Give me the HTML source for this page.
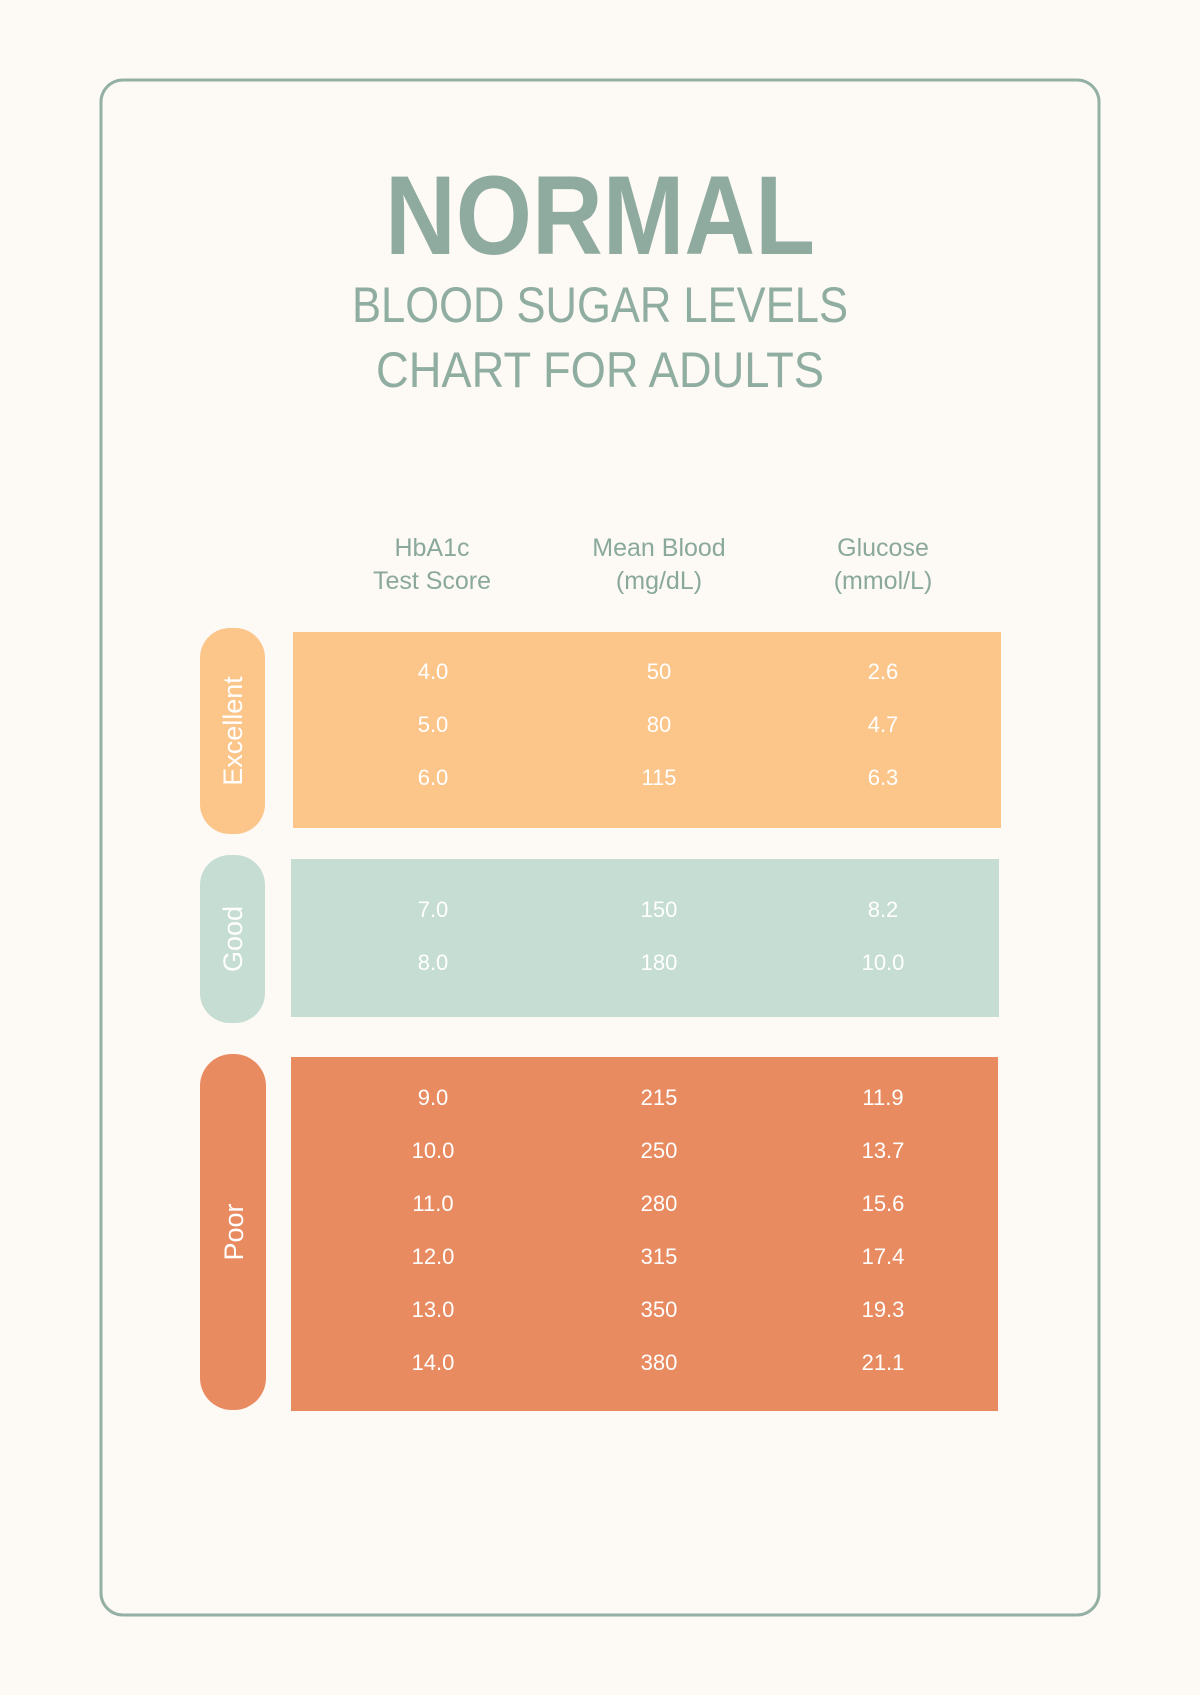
<!DOCTYPE html>
<html><head><meta charset="utf-8"><style>
html,body{margin:0;padding:0;background:#fdf9f5;}
svg{display:block;}
text{font-family:"Liberation Sans",sans-serif;}
</style></head><body>
<svg width="1200" height="1695" viewBox="0 0 1200 1695" xmlns="http://www.w3.org/2000/svg">
<rect width="1200" height="1695" fill="#fdf9f5"/>
<rect x="101" y="80" width="998" height="1535" rx="22" fill="none" stroke="#93b0a4" stroke-width="3"/>
<g fill="#90ad a1" text-anchor="middle">
<text x="600" y="254" font-size="112" font-weight="bold" fill="#8fab9f" textLength="430" lengthAdjust="spacingAndGlyphs">NORMAL</text>
<text x="600" y="322" font-size="50" fill="#90ada1" textLength="496" lengthAdjust="spacingAndGlyphs">BLOOD SUGAR LEVELS</text>
<text x="600" y="387" font-size="50" fill="#90ada1" textLength="448" lengthAdjust="spacingAndGlyphs">CHART FOR ADULTS</text>
</g>
<g fill="#8aa99c" text-anchor="middle" font-size="25">
<text x="432" y="556">HbA1c</text><text x="432" y="589">Test Score</text>
<text x="659" y="556">Mean Blood</text><text x="659" y="589">(mg/dL)</text>
<text x="883" y="556">Glucose</text><text x="883" y="589">(mmol/L)</text>
</g>
<rect x="293" y="632" width="708" height="196" fill="#fcc58a"/>
<rect x="291" y="859" width="708" height="158" fill="#c6ddd4"/>
<rect x="291" y="1057" width="707" height="354" fill="#e98b60"/>
<rect x="200" y="628" width="65" height="206" rx="30" fill="#fcc58a"/>
<rect x="200" y="855" width="65" height="168" rx="30" fill="#c6ddd4"/>
<rect x="200" y="1054" width="66" height="356" rx="32" fill="#e98b60"/>
<g fill="#ffffff" font-size="27" text-anchor="middle">
<text transform="translate(242,731) rotate(-90)">Excellent</text>
<text transform="translate(242,939) rotate(-90)">Good</text>
<text transform="translate(243,1232) rotate(-90)">Poor</text>
</g>
<g fill="#ffffff" font-size="22" text-anchor="middle">
<text x="433" y="679">4.0</text><text x="659" y="679">50</text><text x="883" y="679">2.6</text>
<text x="433" y="732">5.0</text><text x="659" y="732">80</text><text x="883" y="732">4.7</text>
<text x="433" y="785">6.0</text><text x="659" y="785">115</text><text x="883" y="785">6.3</text>
<text x="433" y="917">7.0</text><text x="659" y="917">150</text><text x="883" y="917">8.2</text>
<text x="433" y="970">8.0</text><text x="659" y="970">180</text><text x="883" y="970">10.0</text>
<text x="433" y="1105">9.0</text><text x="659" y="1105">215</text><text x="883" y="1105">11.9</text>
<text x="433" y="1158">10.0</text><text x="659" y="1158">250</text><text x="883" y="1158">13.7</text>
<text x="433" y="1211">11.0</text><text x="659" y="1211">280</text><text x="883" y="1211">15.6</text>
<text x="433" y="1264">12.0</text><text x="659" y="1264">315</text><text x="883" y="1264">17.4</text>
<text x="433" y="1317">13.0</text><text x="659" y="1317">350</text><text x="883" y="1317">19.3</text>
<text x="433" y="1370">14.0</text><text x="659" y="1370">380</text><text x="883" y="1370">21.1</text>
</g>
</svg>
</body></html>
